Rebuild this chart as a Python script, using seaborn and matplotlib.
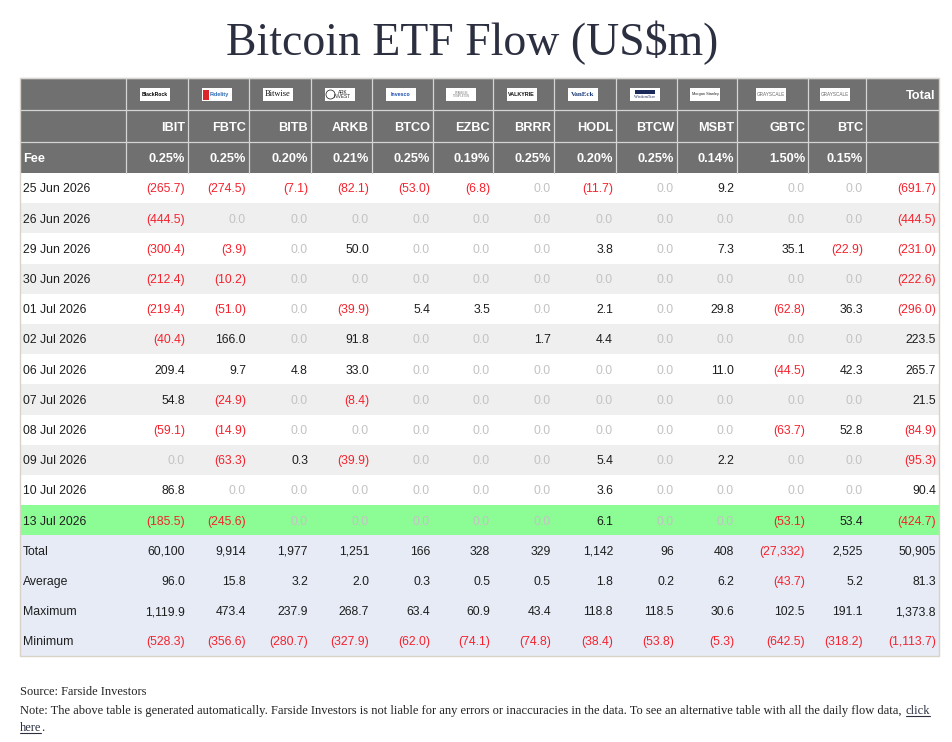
import numpy as np
import pandas as pd
import matplotlib
matplotlib.use("Agg")
import matplotlib.pyplot as plt
from matplotlib.colors import ListedColormap
from matplotlib.patches import Rectangle
import seaborn as sns

# ---------------- data ----------------
tickers = ["IBIT", "FBTC", "BITB", "ARKB", "BTCO", "EZBC", "BRRR", "HODL", "BTCW", "MSBT", "GBTC", "BTC"]
issuers = ["BlackRock", "Fidelity", "Bitwise", "ARK INVEST", "Invesco", "FRANKLIN TEMPLETON",
           "VALKYRIE", "VanEck", "WisdomTree", "Morgan Stanley", "GRAYSCALE", "GRAYSCALE"]
fees = ["0.25%", "0.25%", "0.20%", "0.21%", "0.25%", "0.19%", "0.25%", "0.20%", "0.25%", "0.14%", "1.50%", "0.15%"]

dates = ["25 Jun 2026", "26 Jun 2026", "29 Jun 2026", "30 Jun 2026", "01 Jul 2026", "02 Jul 2026",
         "06 Jul 2026", "07 Jul 2026", "08 Jul 2026", "09 Jul 2026", "10 Jul 2026", "13 Jul 2026"]

flow_25jun = [-265.7, -274.5, -7.1, -82.1, -53.0, -6.8, 0.0, -11.7, 0.0, 9.2, 0.0, 0.0]
flow_26jun = [-444.5, 0.0, 0.0, 0.0, 0.0, 0.0, 0.0, 0.0, 0.0, 0.0, 0.0, 0.0]
flow_29jun = [-300.4, -3.9, 0.0, 50.0, 0.0, 0.0, 0.0, 3.8, 0.0, 7.3, 35.1, -22.9]
flow_30jun = [-212.4, -10.2, 0.0, 0.0, 0.0, 0.0, 0.0, 0.0, 0.0, 0.0, 0.0, 0.0]
flow_01jul = [-219.4, -51.0, 0.0, -39.9, 5.4, 3.5, 0.0, 2.1, 0.0, 29.8, -62.8, 36.3]
flow_02jul = [-40.4, 166.0, 0.0, 91.8, 0.0, 0.0, 1.7, 4.4, 0.0, 0.0, 0.0, 0.0]
flow_06jul = [209.4, 9.7, 4.8, 33.0, 0.0, 0.0, 0.0, 0.0, 0.0, 11.0, -44.5, 42.3]
flow_07jul = [54.8, -24.9, 0.0, -8.4, 0.0, 0.0, 0.0, 0.0, 0.0, 0.0, 0.0, 0.0]
flow_08jul = [-59.1, -14.9, 0.0, 0.0, 0.0, 0.0, 0.0, 0.0, 0.0, 0.0, -63.7, 52.8]
flow_09jul = [0.0, -63.3, 0.3, -39.9, 0.0, 0.0, 0.0, 5.4, 0.0, 2.2, 0.0, 0.0]
flow_10jul = [86.8, 0.0, 0.0, 0.0, 0.0, 0.0, 0.0, 3.6, 0.0, 0.0, 0.0, 0.0]
flow_13jul = [-185.5, -245.6, 0.0, 0.0, 0.0, 0.0, 0.0, 6.1, 0.0, 0.0, -53.1, 53.4]
daily_totals = [-691.7, -444.5, -231.0, -222.6, -296.0, 223.5, 265.7, 21.5, -84.9, -95.3, 90.4, -424.7]

summary_labels = ["Total", "Average", "Maximum", "Minimum"]
total_row = [60100, 9914, 1977, 1251, 166, 328, 329, 1142, 96, 408, -27332, 2525, 50905]
average_row = [96.0, 15.8, 3.2, 2.0, 0.3, 0.5, 0.5, 1.8, 0.2, 6.2, -43.7, 5.2, 81.3]
maximum_row = [1119.9, 473.4, 237.9, 268.7, 63.4, 60.9, 43.4, 118.8, 118.5, 30.6, 102.5, 191.1, 1373.8]
minimum_row = [-528.3, -356.6, -280.7, -327.9, -62.0, -74.1, -74.8, -38.4, -53.8, -5.3, -642.5, -318.2, -1113.7]

daily = [flow_25jun, flow_26jun, flow_29jun, flow_30jun, flow_01jul, flow_02jul,
         flow_06jul, flow_07jul, flow_08jul, flow_09jul, flow_10jul, flow_13jul]
df = pd.DataFrame(daily, index=dates, columns=tickers)
df["Total"] = daily_totals
summary = pd.DataFrame([total_row, average_row, maximum_row, minimum_row],
                       index=summary_labels, columns=tickers + ["Total"])

# ---------------- style ----------------
sns.set_theme(style="white")
SANS = ["Liberation Sans", "DejaVu Sans"]
SERIF = ["Liberation Serif", "DejaVu Serif"]
plt.rcParams["font.family"] = SANS

W, H = 952, 742
fig = plt.figure(figsize=(W / 100, H / 100), dpi=100)

# layout (pixels)
col_edges = [20, 126, 188, 249, 311, 372, 433, 493, 554, 616, 677, 737, 808, 866, 939]
hdr_edges = [78, 110, 142, 173]
body_top, row_h = 173, 30.2
n_rows = len(dates) + len(summary_labels)
body_bot = body_top + n_rows * row_h

HEADER_BG = "#707070"
RED = "#f5222d"
ZERO = "#c3c3c3"
INK = "#1e1e1e"

# ---------------- row backgrounds via seaborn heatmap ----------------
row_kind = [i % 2 for i in range(len(dates))]
row_kind[-1] = 2
row_kind += [3] * len(summary_labels)
ax_bg = fig.add_axes([col_edges[0] / W, 1 - body_bot / H,
                      (col_edges[-1] - col_edges[0]) / W, (body_bot - body_top) / H])
sns.heatmap(np.array(row_kind).reshape(-1, 1), ax=ax_bg, cbar=False,
            cmap=ListedColormap(["#ffffff", "#efefef", "#8cfc95", "#e6ebf6"]),
            vmin=-0.5, vmax=3.5, xticklabels=False, yticklabels=False)
ax_bg.set_axis_off()

ax = fig.add_axes([0, 0, 1, 1], zorder=3)
ax.set_xlim(0, W)
ax.set_ylim(H, 0)
ax.patch.set_alpha(0)
ax.set_axis_off()

# ---------------- header ----------------
ax.add_patch(Rectangle((col_edges[0], hdr_edges[0]), col_edges[-1] - col_edges[0],
                       hdr_edges[-1] - hdr_edges[0], facecolor=HEADER_BG, edgecolor="none"))
for x in col_edges[1:-1]:
    ax.plot([x, x], [hdr_edges[0], hdr_edges[-1]], color="#d5d5d5", lw=0.9)
for y in hdr_edges[:-1]:
    ax.plot([col_edges[0], col_edges[-1]], [y, y], color="#d5d5d5", lw=0.9)

logo_style = {
    "BlackRock": dict(color="#000000", weight="bold", family=SANS, size=3.6),
    "Fidelity": dict(color="#2f6db5", weight="bold", family=SANS, size=4.0),
    "Bitwise": dict(color="#111111", weight="normal", family=SERIF, size=6.0),
    "ARK INVEST": dict(color="#222222", weight="normal", family=SANS, size=3.4),
    "Invesco": dict(color="#1c4fae", weight="bold", family=SANS, size=3.8),
    "FRANKLIN TEMPLETON": dict(color="#777777", weight="normal", family=SANS, size=1.9),
    "VALKYRIE": dict(color="#111111", weight="bold", family=SANS, size=3.9),
    "VanEck": dict(color="#1b3a7a", weight="bold", family=SERIF, size=5.0),
    "WisdomTree": dict(color="#1b2a5a", weight="normal", family=SERIF, size=3.0),
    "Morgan Stanley": dict(color="#222222", weight="normal", family=SANS, size=2.8),
    "GRAYSCALE": dict(color="#666666", weight="normal", family=SANS, size=3.3),
}
hy = (hdr_edges[0] + hdr_edges[1]) / 2 + 0.5
for i, name in enumerate(issuers):
    cx = (col_edges[i + 1] + col_edges[i + 2]) / 2 - 2
    bw, bh = 30, 13
    ax.add_patch(Rectangle((cx - bw / 2, hy - bh / 2), bw, bh, facecolor="white", edgecolor="none"))
    st = logo_style[name]
    tx = cx
    if name == "Fidelity":
        ax.add_patch(Rectangle((cx - 14, hy - 5), 6, 10, facecolor="#d9262b", edgecolor="none"))
        tx = cx + 3
    if name == "ARK INVEST":
        ax.add_patch(plt.Circle((cx - 9, hy), 4.5, facecolor="none", edgecolor="#333333", lw=0.6))
        ax.text(cx + 3, hy, "ARK\nINVEST", ha="center", va="center", color=st["color"],
                fontsize=st["size"], family=st["family"], linespacing=0.9)
        continue
    if name == "WisdomTree":
        ax.add_patch(Rectangle((cx - 10, hy - 5), 20, 4, facecolor="#1b2a5a", edgecolor="none"))
        ax.text(cx, hy + 3, name, ha="center", va="center", color=st["color"],
                fontsize=st["size"], family=st["family"])
        continue
    ax.text(tx, hy, name.replace(" ", "\n") if name == "FRANKLIN TEMPLETON" else name,
            ha="center", va="center", color=st["color"], fontsize=st["size"],
            fontweight=st["weight"], family=st["family"], linespacing=0.9)

BOFF = 4.3  # baseline offset from row centre
ax.text(col_edges[-1] - 4, hy + BOFF, "Total", ha="right", va="baseline", color="white",
        fontsize=9.2, fontweight="bold")
y2 = (hdr_edges[1] + hdr_edges[2]) / 2 + 0.5
y3 = (hdr_edges[2] + hdr_edges[3]) / 2 + 0.5
for i, (tk, fe) in enumerate(zip(tickers, fees)):
    xr = col_edges[i + 2] - 3
    ax.text(xr, y2 + BOFF, tk, ha="right", va="baseline", color="white", fontsize=9.2,
            fontweight="bold")
    ax.text(xr, y3 + BOFF, fe, ha="right", va="baseline", color="white", fontsize=9.2,
            fontweight="bold")
ax.text(col_edges[0] + 3, y3 + BOFF, "Fee", ha="left", va="baseline", color="white",
        fontsize=9.2, fontweight="bold")

# ---------------- body ----------------
def fmt(v, dec):
    s = f"{abs(v):,.{dec}f}"
    if v < 0:
        return f"({s})", RED
    if v == 0:
        return s, ZERO
    return s, INK

FS = 8.8
rows = [(d, df.loc[d].tolist(), 1) for d in dates]
rows += [(lab, summary.loc[lab].tolist(), 0 if lab == "Total" else 1) for lab in summary_labels]
for r, (label, vals, dec) in enumerate(rows):
    yb = body_top + (r + 0.5) * row_h + BOFF
    ax.text(col_edges[0] + 3, yb, label, ha="left", va="baseline", color=INK, fontsize=FS)
    for j, v in enumerate(vals):
        s, c = fmt(v, dec)
        ax.text(col_edges[j + 2] - 3, yb, s, ha="right", va="baseline", color=c, fontsize=FS)

# outer border
ax.add_patch(Rectangle((col_edges[0], hdr_edges[0]), col_edges[-1] - col_edges[0],
                       body_bot - hdr_edges[0], facecolor="none", edgecolor="#d9d2c6", lw=1.0))

# ---------------- title & footer ----------------
title = ax.text(W / 2 - 4, 55, "Bitcoin ETF Flow (US$m)", ha="center", va="baseline",
                color="#2b2f40", fontsize=34, family=SERIF)
src = ax.text(20, 695, "Source: Farside Investors", ha="left", va="baseline",
              color="#222222", fontsize=9, family=SERIF)
note = ax.text(20, 714, "Note: The above table is generated automatically. Farside Investors is not "
               "liable for any errors or inaccuracies in the data. To see an alternative table "
               "with all the daily flow data,", ha="left", va="baseline", color="#222222",
               fontsize=9, family=SERIF)

fig.canvas.draw()
rend = fig.canvas.get_renderer()
for t, target in [(title, 493), (src, 126), (note, 883)]:
    w = t.get_window_extent(rend).width
    t.set_fontsize(t.get_fontsize() * target / w)
fig.canvas.draw()
bb = note.get_window_extent(rend)
fs_note = note.get_fontsize()
x_click = bb.x1 + 4
click = ax.text(x_click, 714, "click", ha="left", va="baseline", color="#2b2f40",
                fontsize=fs_note, family=SERIF)
here = ax.text(20, 731, "here", ha="left", va="baseline", color="#2b2f40",
               fontsize=fs_note, family=SERIF)
fig.canvas.draw()
for t, yb in [(click, 716), (here, 733)]:
    b = t.get_window_extent(rend)
    ax.plot([b.x0, b.x1], [yb, yb], color="#2b2f40", lw=0.8)
bh_ = here.get_window_extent(rend)
ax.text(bh_.x1, 731, ".", ha="left", va="baseline", color="#222222", fontsize=fs_note, family=SERIF)

fig.savefig("out.png", dpi=100)
